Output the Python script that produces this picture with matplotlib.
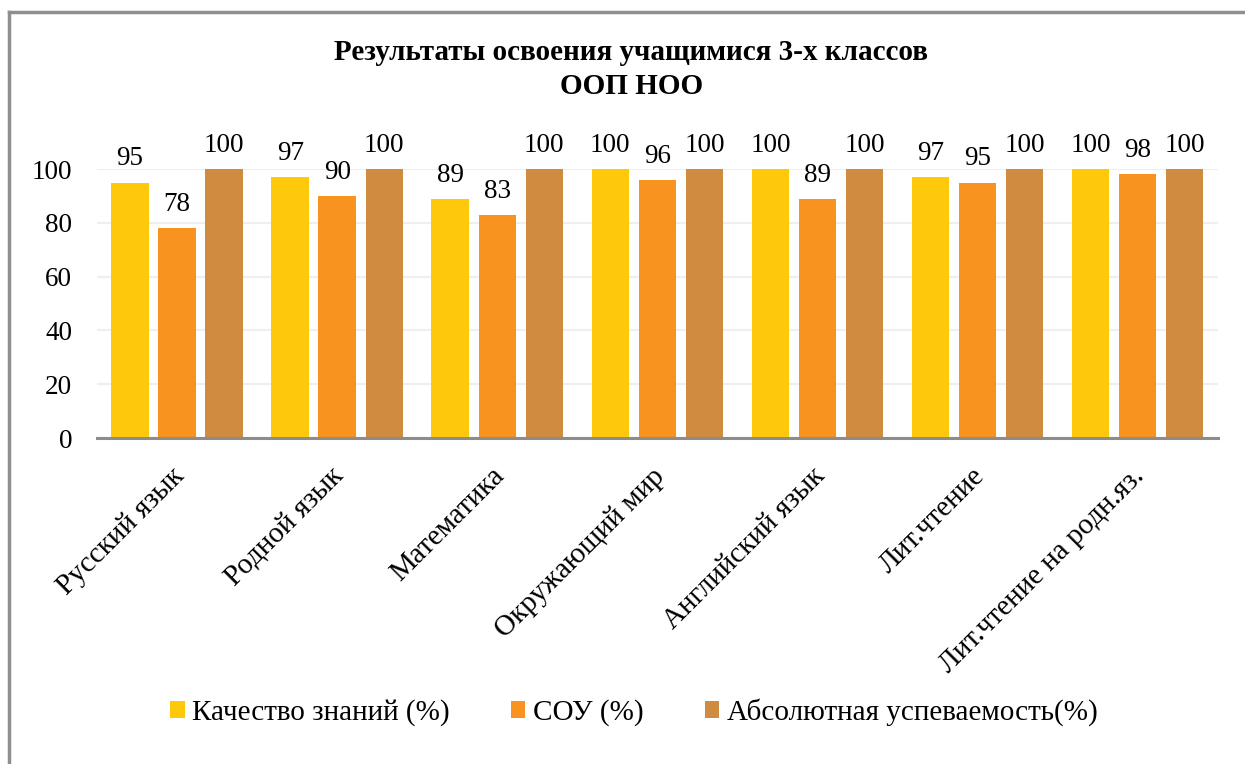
import numpy as np
import matplotlib
matplotlib.use("Agg")
import matplotlib.pyplot as plt
import matplotlib.transforms as mtransforms
from matplotlib.patches import Patch
from matplotlib.lines import Line2D
from matplotlib import font_manager
from matplotlib.font_manager import FontProperties

REG = font_manager.findfont(FontProperties(family="Liberation Serif"))
BOLD = font_manager.findfont(FontProperties(family="Liberation Serif", weight="bold"))


def fp(size, bold=False):
    return FontProperties(fname=BOLD if bold else REG, size=size)


subjects = ["Русский язык", "Родной язык", "Математика", "Окружающий мир",
            "Английский язык", "Лит.чтение", "Лит.чтение на родн.яз."]
kachestvo = [95, 97, 89, 100, 100, 97, 100]
sou = [78, 90, 83, 96, 89, 95, 98]
absolut = [100, 100, 100, 100, 100, 100, 100]
series_names = ["Качество знаний (%)", "СОУ (%)", "Абсолютная успеваемость(%)"]
colors = ["#FFC90B", "#F7931E", "#CF8B3F"]
yticks = [0, 20, 40, 60, 80, 100]

fig = plt.figure(figsize=(12.45, 7.64), dpi=100)
ax = fig.add_axes([0.078, 0.4267, 0.9, 0.352])

x = np.arange(len(subjects))
step = 0.294
w = 0.234
for k, (vals, c) in enumerate(zip([kachestvo, sou, absolut], colors)):
    pos = x + (k - 1) * step
    ax.bar(pos, vals, width=w, color=c, zorder=3)
    for xi, v in zip(pos, vals):
        ax.annotate(str(v), (xi, v), xytext=(0, 8), textcoords="offset points",
                    ha="center", va="bottom", fontproperties=fp(19.5),
                    clip_on=False)

ax.set_xlim(-0.5, len(subjects) - 0.5)
ax.set_ylim(0, 100)
ax.set_yticks(yticks)
ax.set_yticklabels([str(t) for t in yticks], fontproperties=fp(19.5))
ax.yaxis.grid(True, color="#EFEFEF", linewidth=1.6, zorder=0)
ax.set_axisbelow(True)
for s in ["top", "right", "left"]:
    ax.spines[s].set_visible(False)
ax.spines["bottom"].set_color("#8C8C8C")
ax.spines["bottom"].set_linewidth(2.2)
ax.spines["bottom"].set_zorder(4)
ax.tick_params(axis="y", length=0, pad=18)
ax.tick_params(axis="x", length=0, pad=18)
ax.set_xticks(x)
ax.set_xticklabels(subjects, rotation=45, ha="right", va="top",
                   rotation_mode="anchor", fontproperties=fp(21))
shift = mtransforms.ScaledTranslation(-6 / 100, 0, fig.dpi_scale_trans)
for lab in ax.get_xticklabels():
    lab.set_transform(lab.get_transform() + shift)

fig.text(0.507, 0.909, "Результаты освоения учащимися 3-х классов\nООП НОО",
         ha="center", va="center", fontproperties=fp(21, bold=True),
         linespacing=1.32)

handles = [Patch(facecolor=c, edgecolor="none") for c in colors]
fig.legend(handles, series_names, loc="center", bbox_to_anchor=(0.509, 0.068),
           ncol=3, frameon=False, prop=fp(21),
           handlelength=0.5, handleheight=0.5, handletextpad=0.25,
           columnspacing=2.1)

# chart border (only left and top visible in the crop)
fig.add_artist(Line2D([0.0072, 0.0072], [0, 0.984], transform=fig.transFigure,
                      color="#8F8F8F", linewidth=2.5))
fig.add_artist(Line2D([0.0072, 1.0], [0.984, 0.984], transform=fig.transFigure,
                      color="#8F8F8F", linewidth=2.5))

fig.savefig("out.png", dpi=100, facecolor="white")
